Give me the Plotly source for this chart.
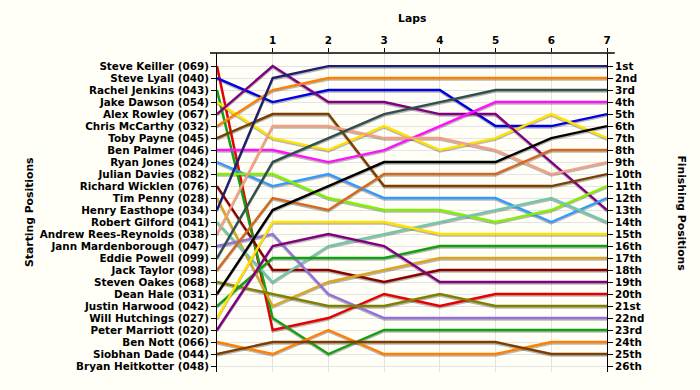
import plotly.graph_objects as go

drivers = [
    "Steve Keiller (069)", "Steve Lyall (040)", "Rachel Jenkins (043)", "Jake Dawson (054)",
    "Alex Rowley (067)", "Chris McCarthy (032)", "Toby Payne (045)", "Ben Palmer (046)",
    "Ryan Jones (024)", "Julian Davies (082)", "Richard Wicklen (076)", "Tim Penny (028)",
    "Henry Easthope (034)", "Robert Gilford (041)", "Andrew Rees-Reynolds (038)",
    "Jann Mardenborough (047)", "Eddie Powell (099)", "Jack Taylor (098)", "Steven Oakes (068)",
    "Dean Hale (031)", "Justin Harwood (042)", "Will Hutchings (027)", "Peter Marriott (020)",
    "Ben Nott (066)", "Siobhan Dade (044)", "Bryan Heitkotter (048)",
]

finishing_labels = ["1st", "2nd", "3rd", "4th", "5th", "6th", "7th", "8th", "9th", "10th",
                    "11th", "12th", "13th", "14th", "15th", "16th", "17th", "18th", "19th",
                    "20th", "21st", "22nd", "23rd", "24th", "25th", "26th"]

laps = [0, 1, 2, 3, 4, 5, 6, 7]
lap_ticks = [1, 2, 3, 4, 5, 6, 7]

# position of each driver at the end of each lap (lap 0 = grid)
positions = {
    "Steve Keiller (069)":        [1, 23, 22, 20, 21, 20, 20, 20],
    "Steve Lyall (040)":          [2, 4, 3, 3, 3, 6, 6, 5],
    "Rachel Jenkins (043)":       [3, 22, 25, 23, 23, 23, 23, 23],
    "Jake Dawson (054)":          [4, 7, 8, 6, 8, 7, 5, 7],
    "Alex Rowley (067)":          [5, 1, 4, 4, 5, 5, 9, 13],
    "Chris McCarthy (032)":       [6, 3, 2, 2, 2, 2, 2, 2],
    "Toby Payne (045)":           [7, 5, 5, 11, 11, 11, 11, 10],
    "Ben Palmer (046)":           [8, 8, 9, 8, 6, 4, 4, 4],
    "Ryan Jones (024)":           [9, 11, 10, 12, 12, 12, 14, 12],
    "Julian Davies (082)":        [10, 10, 12, 13, 13, 14, 13, 11],
    "Richard Wicklen (076)":      [11, 18, 18, 19, 18, 18, 18, 18],
    "Tim Penny (028)":            [12, 21, 19, 18, 17, 17, 17, 17],
    "Henry Easthope (034)":       [13, 2, 1, 1, 1, 1, 1, 1],
    "Robert Gilford (041)":       [14, 19, 16, 15, 14, 13, 12, 14],
    "Andrew Rees-Reynolds (038)": [15, 6, 6, 7, 7, 8, 10, 9],
    "Jann Mardenborough (047)":   [16, 15, 20, 22, 22, 22, 22, 22],
    "Eddie Powell (099)":         [17, 9, 7, 5, 4, 3, 3, 3],
    "Jack Taylor (098)":          [18, 12, 13, 10, 10, 10, 8, 8],
    "Steven Oakes (068)":         [19, 20, 21, 21, 20, 21, 21, 21],
    "Dean Hale (031)":            [20, 13, 11, 9, 9, 9, 7, 6],
    "Justin Harwood (042)":       [21, 17, 17, 17, 16, 16, 16, 16],
    "Will Hutchings (027)":       [22, 14, 14, 14, 15, 15, 15, 15],
    "Peter Marriott (020)":       [23, 16, 15, 16, 19, 19, 19, 19],
    "Ben Nott (066)":             [24, 25, 23, 25, 25, 25, 24, 24],
    "Siobhan Dade (044)":         [25, 24, 24, 24, 24, 24, 25, 25],
}

colors = {
    "Steve Keiller (069)": "#E80000",
    "Steve Lyall (040)": "#0000E0",
    "Rachel Jenkins (043)": "#11A011",
    "Jake Dawson (054)": "#FFE000",
    "Alex Rowley (067)": "#800080",
    "Chris McCarthy (032)": "#FF8000",
    "Toby Payne (045)": "#7B3F00",
    "Ben Palmer (046)": "#FF10FF",
    "Ryan Jones (024)": "#3399FF",
    "Julian Davies (082)": "#80F000",
    "Richard Wicklen (076)": "#8B0000",
    "Tim Penny (028)": "#DAA520",
    "Henry Easthope (034)": "#1F1F6F",
    "Robert Gilford (041)": "#70C8A8",
    "Andrew Rees-Reynolds (038)": "#F4A080",
    "Jann Mardenborough (047)": "#9370DB",
    "Eddie Powell (099)": "#2F4F4F",
    "Jack Taylor (098)": "#D2691E",
    "Steven Oakes (068)": "#808000",
    "Dean Hale (031)": "#000000",
    "Justin Harwood (042)": "#11A011",
    "Will Hutchings (027)": "#FFE000",
    "Peter Marriott (020)": "#800080",
    "Ben Nott (066)": "#FF8000",
    "Siobhan Dade (044)": "#7B3F00",
}

FONT = "DejaVu Sans, Verdana, sans-serif"
FS = 10.4
TITLE_FS = 10.8
BG = "#FFFEF7"
LABEL_FONT = dict(family=FONT, size=FS, color="#000000", weight="bold")

fig = go.Figure()

# shadows
for name, pos in positions.items():
    fig.add_trace(go.Scatter(
        x=laps, y=[p + 0.14 for p in pos], mode="lines",
        line=dict(color="rgba(0,0,0,0.28)", width=2.0),
        hoverinfo="skip", showlegend=False))

for name, pos in positions.items():
    fig.add_trace(go.Scatter(
        x=laps, y=pos, mode="lines", name=name,
        line=dict(color=colors[name], width=2.4),
        showlegend=False))

# anchor trace for the right-hand axis
fig.add_trace(go.Scatter(x=[laps[0]], y=[1], yaxis="y2", mode="lines",
                         line=dict(width=0), hoverinfo="skip", showlegend=False))

n = len(drivers)
yrange = [n + 0.5, -0.09]

fig.update_layout(
    width=700, height=390,
    margin=dict(l=217, r=93, t=53, b=18),
    paper_bgcolor=BG, plot_bgcolor=BG,
    font=dict(family=FONT, size=FS, color="#000000"),
    xaxis=dict(range=[0, 7], side="top", tickvals=lap_ticks,
               ticktext=[str(t) for t in lap_ticks],
               showgrid=True, gridcolor="#E4E4E4", gridwidth=1, zeroline=False,
               showline=False, ticks="outside", ticklen=4, tickcolor="#000",
               tickfont=LABEL_FONT),
    yaxis=dict(range=yrange, tickvals=list(range(1, n + 1)), ticktext=drivers,
               showgrid=True, gridcolor="#E4E4E4", gridwidth=1, zeroline=False,
               showline=True, linecolor="#000", linewidth=1,
               ticks="outside", ticklen=5, tickcolor="#000",
               tickfont=LABEL_FONT),
    yaxis2=dict(range=yrange, overlaying="y", side="right",
                tickvals=list(range(1, n + 1)), ticktext=finishing_labels,
                showgrid=False, zeroline=False,
                showline=True, linecolor="#000", linewidth=1,
                ticks="outside", ticklen=5, tickcolor="#000",
                tickfont=LABEL_FONT),
    shapes=[dict(type="line", xref="paper", yref="paper", x0=-0.018, x1=1.02,
                 y0=1, y1=1, line=dict(color="#000", width=1.5))],
    annotations=[
        dict(text="<b>Laps</b>", xref="paper", yref="paper", x=0.5, y=1.107,
             xanchor="center", yanchor="middle",
             showarrow=False, font=dict(size=TITLE_FS, family=FONT)),
        dict(text="<b>Starting Positions</b>", xref="paper", yref="paper",
             x=-0.481, y=0.5, xanchor="center", yanchor="middle",
             textangle=-90, showarrow=False,
             font=dict(size=TITLE_FS, family=FONT)),
        dict(text="<b>Finishing Positions</b>", xref="paper", yref="paper",
             x=1.19, y=0.5, xanchor="center", yanchor="middle",
             textangle=90, showarrow=False,
             font=dict(size=TITLE_FS, family=FONT)),
    ],
)

fig.write_html(
    "out.html",
    config={"displayModeBar": False},
    post_script="document.body.style.margin='0';document.body.style.background='" + BG + "';",
)
